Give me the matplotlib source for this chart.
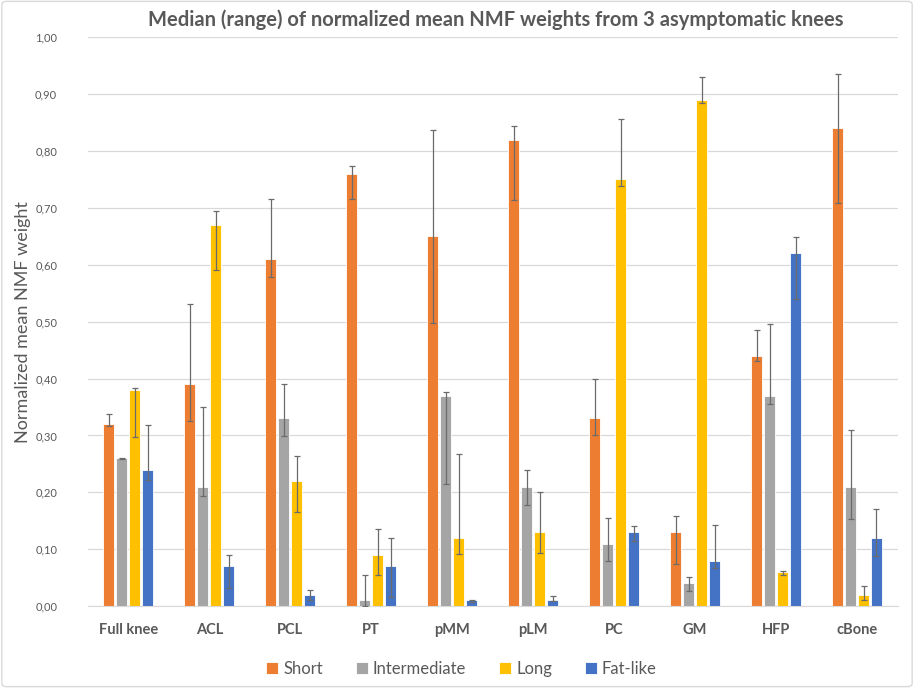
import matplotlib
matplotlib.use('Agg')

import numpy as np
import matplotlib.pyplot as plt
from matplotlib.patches import FancyBboxPatch

plt.rcParams['font.family'] = ['Lato', 'DejaVu Sans']

# ===== data =====
categories = ['Full knee', 'ACL', 'PCL', 'PT', 'pMM', 'pLM', 'PC', 'GM', 'HFP', 'cBone']
series = ['Short', 'Intermediate', 'Long', 'Fat-like']

short_med = [0.32, 0.39, 0.61, 0.76, 0.65, 0.82, 0.33, 0.13, 0.44, 0.84]
short_min = [0.317, 0.325, 0.578, 0.716, 0.497, 0.713, 0.300, 0.074, 0.431, 0.708]
short_max = [0.338, 0.531, 0.716, 0.774, 0.836, 0.843, 0.400, 0.158, 0.485, 0.936]

inter_med = [0.26, 0.21, 0.33, 0.01, 0.37, 0.21, 0.11, 0.04, 0.37, 0.21]
inter_min = [0.258, 0.194, 0.299, 0.0, 0.215, 0.177, 0.080, 0.026, 0.355, 0.153]
inter_max = [0.261, 0.350, 0.390, 0.055, 0.376, 0.240, 0.155, 0.052, 0.496, 0.309]

long_med = [0.38, 0.67, 0.22, 0.09, 0.12, 0.13, 0.75, 0.89, 0.06, 0.02]
long_min = [0.297, 0.590, 0.166, 0.054, 0.091, 0.094, 0.738, 0.884, 0.055, 0.011]
long_max = [0.383, 0.695, 0.264, 0.136, 0.268, 0.201, 0.856, 0.930, 0.062, 0.036]

fat_med = [0.24, 0.07, 0.02, 0.07, 0.01, 0.01, 0.13, 0.08, 0.62, 0.12]
fat_min = [0.221, 0.032, 0.011, 0.016, 0.008, 0.009, 0.114, 0.067, 0.540, 0.088]
fat_max = [0.319, 0.089, 0.028, 0.119, 0.011, 0.018, 0.141, 0.143, 0.649, 0.170]

colors = ['#ED7D31', '#A5A5A5', '#FFC000', '#4472C4']
TXT = '#595959'

meds = [short_med, inter_med, long_med, fat_med]
mins = [short_min, inter_min, long_min, fat_min]
maxs = [short_max, inter_max, long_max, fat_max]

# ===== plot =====
fig = plt.figure(figsize=(9.14, 6.88), dpi=100)
ax = fig.add_axes([0.096, 0.119, 0.886, 0.827])

x = np.arange(len(categories))
step = 0.16
width = 0.135
for i, (name, c) in enumerate(zip(series, colors)):
    med = np.array(meds[i])
    lo = np.clip(med - np.array(mins[i]), 0, None)
    hi = np.clip(np.array(maxs[i]) - med, 0, None)
    pos = x + (i - 1.5) * step
    ax.bar(pos, med, width=width, color=c, edgecolor='white', linewidth=0.6,
           label=name, zorder=2)
    ax.errorbar(pos, med, yerr=[lo, hi], fmt='none', ecolor='#6b6b6b',
                elinewidth=0.9, capsize=2.5, capthick=0.9, zorder=3)

ax.set_xlim(-0.5, len(categories) - 0.5)
ax.set_ylim(0, 1.0)
ax.set_yticks(np.arange(0, 1.01, 0.1))
ax.set_yticklabels([f'{v:.2f}'.replace('.', ',') for v in np.arange(0, 1.01, 0.1)],
                   fontsize=8, color=TXT)
ax.set_xticks(x)
ax.set_xticklabels(categories, fontsize=10.5, fontweight='bold', color=TXT)
ax.tick_params(axis='both', length=0)
ax.tick_params(axis='x', pad=12)
ax.tick_params(axis='y', pad=22)
ax.grid(axis='y', color='#D9D9D9', linewidth=0.9, zorder=0)
ax.set_axisbelow(True)
for s in ['top', 'right', 'left']:
    ax.spines[s].set_visible(False)
ax.spines['bottom'].set_color('#D9D9D9')

ax.set_ylabel('Normalized mean NMF weight', fontsize=13, color=TXT, labelpad=3)
fig.text(0.542, 0.972, 'Median (range) of normalized mean NMF weights from 3 asymptomatic knees',
         ha='center', va='center', fontsize=14.5, fontweight='bold', color=TXT)

fig.legend(loc='center', bbox_to_anchor=(0.505, 0.028), ncol=4, frameon=False,
           fontsize=12, handlelength=0.7, handleheight=0.7, handletextpad=0.3,
           columnspacing=2.0, labelcolor=TXT)

border = FancyBboxPatch((0.002, 0.002), 0.996, 0.996, boxstyle='round,pad=0,rounding_size=0.005',
                        transform=fig.transFigure, fill=False, edgecolor='#D9D9D9', linewidth=1)
fig.patches.append(border)

fig.savefig('out.png', dpi=100, facecolor='white')
